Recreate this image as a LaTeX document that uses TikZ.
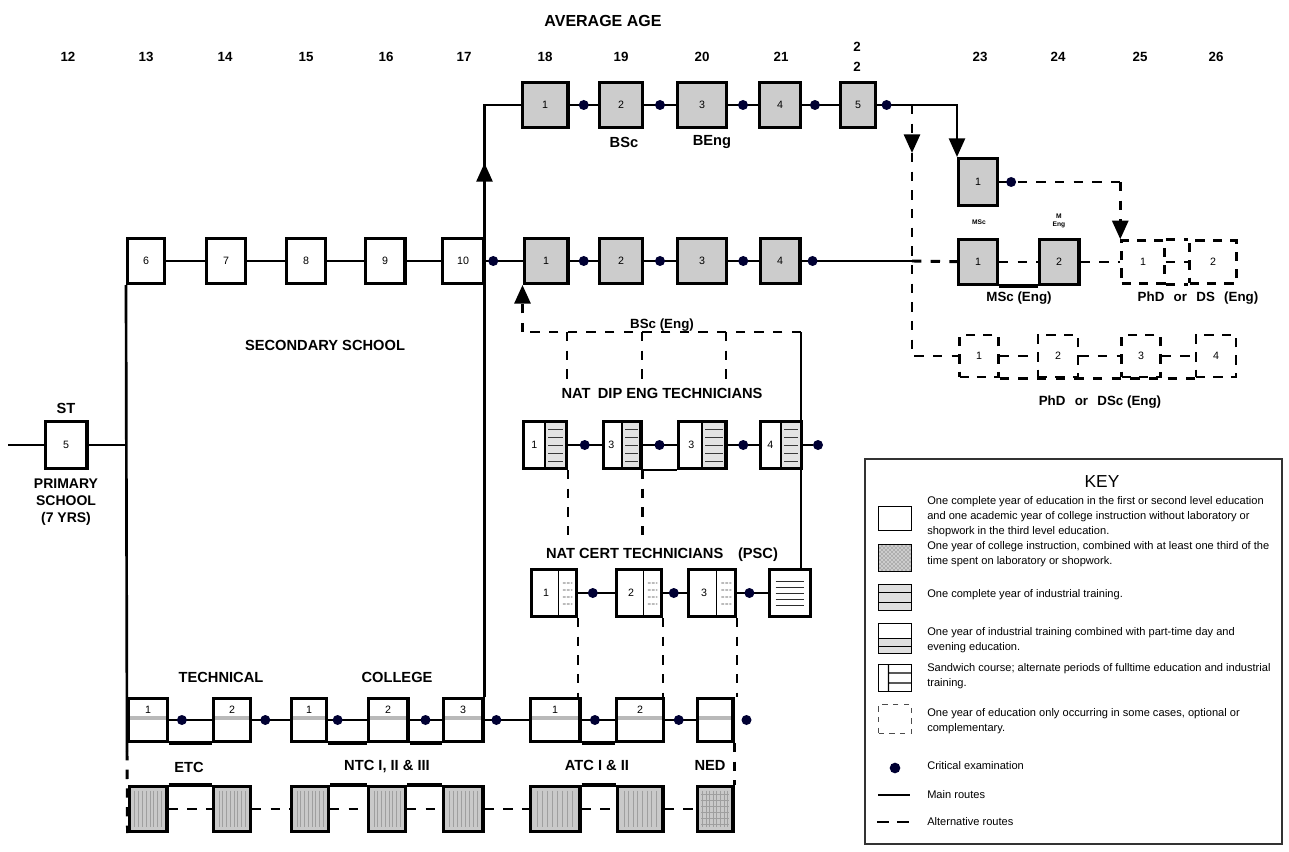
\documentclass[tikz,border=0pt]{standalone}
\usepackage{fontspec}
\setmainfont{Liberation Sans}
\usepackage{graphicx}
\usetikzlibrary{calc,arrows.meta,patterns}

% font sizes
\newcommand\numf{\fontsize{8}{9}\selectfont}
\newcommand\labf{\bfseries\fontsize{11}{13}\selectfont}
\newcommand\slabf{\bfseries\fontsize{10}{12}\selectfont}
\newcommand\agef{\bfseries\fontsize{10}{12}\selectfont}
\newcommand\keyf{\fontsize{8.3}{11.25}\selectfont}
\newcommand\tinyf{\bfseries\fontsize{5}{6}\selectfont}

\tikzset{
  sz/.style 2 args={minimum width={#1*0.75pt-2.4pt}, minimum height={#2*0.75pt-2.4pt}},
  box/.style={draw, line width=2.4pt, fill=white, inner sep=0pt, font=\numf},
  gbox/.style={box, fill=gray!40},
  dbox/.style={draw, line width=2pt, dash pattern=on 7pt off 6pt, inner sep=0pt, font=\numf},
  conn/.style={line width=2pt},
  thinconn/.style={line width=0.8pt},
  frame/.style={line width=2.4pt},
  alt/.style={line width=2.2pt, dash pattern=on 7pt off 7pt},
  dot/.style={circle, fill=black!80!blue, inner sep=0pt, minimum size=7.5pt},
  lab/.style={font=\labf, inner sep=1pt},
  slab/.style={font=\slabf, inner sep=1pt},
  age/.style={font=\agef, inner sep=1pt},
  tip/.style={-{Triangle[length=14pt,width=12pt]}},
  % sandwich year: number left, training lines right
  ndbox/.style={box, path picture={
      \fill[gray!22] (path picture bounding box.north) rectangle (path picture bounding box.south east);
      \draw[line width=1pt] (path picture bounding box.north) -- (path picture bounding box.south);
      \foreach \dy in {-16,-8,0,8,16}
        \draw[gray!45!black, line width=0.6pt] ($(path picture bounding box.center)+(3,\dy)$) -- ($(path picture bounding box.east)+(-3,\dy)$);},
      label={[font=\numf, xshift=-8pt]center:#1}},
  % year with part-time training: divider at 60 %
  ncbox/.style={box, path picture={
      \draw[line width=1pt] ($(path picture bounding box.north)!0.2!(path picture bounding box.north east)$) -- ($(path picture bounding box.south)!0.2!(path picture bounding box.south east)$);
      \foreach \dy in {-10,-3,4,11}
        \draw[gray!50!black, line width=0.5pt, dash pattern=on 2pt off 1pt] ($(path picture bounding box.center)!0.4!(path picture bounding box.east)+(0,\dy)$) -- ($(path picture bounding box.east)+(-4,\dy)$);},
      label={[font=\numf, xshift=-6pt]center:#1}},
  pscbox/.style={box, path picture={
      \foreach \dy in {-12,-6,0,6,12}
        \draw[gray!35!black, line width=0.6pt] ($(path picture bounding box.west)+(6,\dy)$) -- ($(path picture bounding box.east)+(-6,\dy)$);}},
  tcbox/.style={box, path picture={
      \draw[gray!55, line width=2.5pt] ($(path picture bounding box.west)+(0,-2)$) -- ($(path picture bounding box.east)+(0,-2)$);},
      label={[font=\numf, yshift=7.5pt]center:#1}},
  labbox/.style={box, fill=gray!42, path picture={
      \foreach \f in {0.15,0.25,...,0.86}
        \draw[gray!75, line width=0.5pt] ($(path picture bounding box.north west)!\f!(path picture bounding box.north east)+(0,4)$) -- ($(path picture bounding box.south west)!\f!(path picture bounding box.south east)+(0,-4)$);}},
  gridbox/.style={labbox, postaction={path picture={
      \foreach \dy in {-15,-9,-3,3,9,15}
        \draw[gray!75, line width=0.5pt] ($(path picture bounding box.west)+(4,\dy)$) -- ($(path picture bounding box.east)+(-4,\dy)$);}}},
  kb/.style={draw, line width=1.2pt, inner sep=0pt, fill=white},
  keytext/.style={font=\keyf, align=left, anchor=west, inner sep=0pt},
}

\begin{document}
\begin{tikzpicture}[x=0.75pt, y=-0.75pt]
\useasboundingbox (0,0) rectangle (1289,852);
\fill[white] (0,0) rectangle (1289,852);

% ---------- ages ----------
\node[lab, font=\bfseries\fontsize{12}{14}\selectfont] (avg) at (603,21) {AVERAGE AGE};
\foreach \a/\x in {12/68,13/146,14/225,15/306,16/386,17/464,18/545,19/621,20/702,21/781,23/980,24/1058,25/1140,26/1216}
  \node[age] (age\a) at (\x,57) {\a};
\node[age, align=center] (age22) at (857,57) {2\\[3pt]2};

% ---------- primary ----------
\node[box, sz={45}{50}] (ST) at (66,445) {5};
\node[lab] (stl) at (66,408) {ST};
\node[lab, align=center, font=\bfseries\fontsize{10.5}{12.75}\selectfont] (prim) at (66,502) {PRIMARY\\SCHOOL\\(7 YRS)};
\coordinate (pin) at (8,445);

% ---------- secondary ----------
\node[box, sz={40}{48}] (S6) at (146,261) {6};
\node[box, sz={42}{48}] (S7) at (226,261) {7};
\node[box, sz={42}{48}] (S8) at (306,261) {8};
\node[box, sz={43}{48}] (S9) at (385,261) {9};
\node[box, sz={44}{48}] (S10) at (463,261) {10};
\node[lab] (sec) at (325,345) {SECONDARY SCHOOL};

% ---------- first degree ----------
\node[gbox, sz={49}{48}] (U1) at (545,105) {1};
\node[gbox, sz={46}{48}] (U2) at (621,105) {2};
\node[gbox, sz={52}{48}] (U3) at (702,105) {3};
\node[gbox, sz={44}{48}] (U4) at (780,105) {4};
\node[gbox, sz={38}{48}] (U5) at (858,105) {5};
\node[lab] (bsc) at (624,142) {BSc};
\node[lab] (beng) at (712,142) {BEng};

\node[gbox, sz={47}{48}] (L1) at (546,261) {1};
\node[gbox, sz={46}{48}] (L2) at (621,261) {2};
\node[gbox, sz={52}{48}] (L3) at (702,261) {3};
\node[gbox, sz={43}{48}] (L4) at (780,261) {4};
\node[slab] (bsceng) at (662,325) {BSc (Eng)};

% ---------- postgraduate ----------
\node[gbox, sz={42}{50}] (M0) at (978,182) {1};
\node[gbox, sz={42}{48}] (MS1) at (978,262) {1};
\node[gbox, sz={43}{48}] (MS2) at (1059,262) {2};
\node[font=\tinyf] (mscs) at (979,222) {MSc};
\node[font=\tinyf, align=center, inner sep=0pt] (mengs) at (1059,221) {M\\Eng};
\node[slab] (mscl) at (1019,298) {MSc (Eng)};

\node[dbox, sz={46}{46}] (D1) at (1143,262) {1};
\node[dbox, sz={50}{46}] (D2) at (1213,262) {2};
\node[slab] (phd1) at (1198,298) {PhD\hspace{0.7em}or\hspace{0.7em}DS\hspace{0.7em}(Eng)};

\node[dbox, sz={42}{45}] (Q1) at (979,356) {1};
\node[dbox, sz={43}{45}] (Q2) at (1058,356) {2};
\node[dbox, sz={42}{45}] (Q3) at (1141,356) {3};
\node[dbox, sz={43}{45}] (Q4) at (1216,356) {4};
\node[slab] (phd2) at (1100,402) {PhD\hspace{0.7em}or\hspace{0.7em}DSc (Eng)};

% ---------- technicians ----------
\node[lab] (ndl) at (662,393) {NAT\hspace{0.5em}DIP ENG TECHNICIANS};
\node[ndbox=1, sz={46}{50}] (ND1) at (545,445) {};
\node[ndbox=3, sz={41}{50}] (ND2) at (622,445) {};
\node[ndbox=3, sz={51}{50}] (ND3) at (702,445) {};
\node[ndbox=4, sz={44}{50}] (ND4) at (781,445) {};

\node[lab] (ncl) at (662,555) {NAT CERT TECHNICIANS\hspace{1em}(PSC)};
\node[ncbox=1, sz={48}{50}] (NC1) at (554,593) {};
\node[ncbox=2, sz={48}{50}] (NC2) at (639,593) {};
\node[ncbox=3, sz={50}{50}] (NC3) at (712,593) {};
\node[pscbox, sz={44}{50}] (PSC) at (790,593) {};

% ---------- technical college ----------
\node[lab] (tech) at (221,677) {TECHNICAL};
\node[lab] (coll) at (397,677) {COLLEGE};
\node[tcbox=1, sz={42}{46}] (T1) at (148,720) {};
\node[tcbox=2, sz={40}{46}] (T2) at (232,720) {};
\node[tcbox=1, sz={38}{46}] (C1) at (309,720) {};
\node[tcbox=2, sz={43}{46}] (C2) at (388,720) {};
\node[tcbox=3, sz={43}{46}] (C3) at (463,720) {};
\node[tcbox=1, sz={53}{46}] (A1) at (555,720) {};
\node[tcbox=2, sz={50}{46}] (A2) at (640,720) {};
\node[tcbox={}, sz={39}{46}] (NE) at (715,720) {};

\node[lab] (etc) at (189,767) {ETC};
\node[lab] (ntc) at (387,767) {NTC I, II \& III};
\node[lab] (atc) at (597,765) {ATC I \& II};
\node[lab] (nedl) at (710,765) {NED};
\node[labbox, sz={41}{48}] (E1) at (148,809) {};
\node[labbox, sz={40}{48}] (E2) at (232,809) {};
\node[labbox, sz={40}{48}] (N1) at (310,809) {};
\node[labbox, sz={40}{48}] (N2) at (387,809) {};
\node[labbox, sz={43}{48}] (N3) at (463,809) {};
\node[labbox, sz={53}{48}] (AA1) at (555,809) {};
\node[labbox, sz={49}{48}] (AA2) at (640,809) {};
\node[gridbox, sz={39}{48}] (NB) at (715,809) {};

% ---------- route points ----------
\coordinate (k0) at (C3.north east |- U1.west);
\coordinate (ka) at (C3.north east |- 0,163);
\coordinate (kb) at (C3.north east |- 0,188);
\coordinate (k1) at (M0.north west |- U5.east);
\coordinate (k2) at (912,105);
\coordinate (k2a) at (912,153);
\coordinate (k3) at (k2 |- Q1.west);
\coordinate (k4) at (k2 |- L4.east);
\coordinate (k7) at (D1.north west |- M0.east);
\coordinate (v1) at (801,332);
\coordinate (k5) at (L1.south west |- v1);
\coordinate (d1t) at (567,332);
\coordinate (d1b) at (567,381);
\coordinate (d2t) at (642,332);
\coordinate (d2b) at (642,381);
\coordinate (d3t) at (726,332);
\coordinate (d3b) at (726,381);
\coordinate (tl) at ($(T1.south west)+(0,8)$);

% ---------- main routes ----------
\draw[conn] (pin) -- (ST);
\draw[conn] (ST) -- (ST -| S6.south west);
\draw[conn] (S6.south west) -- (tl);
\draw[conn] (S6) -- (S7);
\draw[conn] (S7) -- (S8);
\draw[conn] (S8) -- (S9);
\draw[conn] (S9) -- (S10);

\draw[conn] (C3.north east) -- (k0) -- (U1);
\draw[conn, tip] (kb) -- (ka);
\draw[conn] (U1) -- node[dot]{} (U2);
\draw[conn] (U2) -- node[dot]{} (U3);
\draw[conn] (U3) -- node[dot]{} (U4);
\draw[conn] (U4) -- node[dot, pos=0.35]{} (U5);
\draw[conn, tip] (U5) -- node[dot, pos=0.12]{} (k1) -- (M0.north west);

\draw[conn] (S10) -- node[dot, pos=0.22]{} (L1);
\draw[conn] (L1) -- node[dot]{} (L2);
\draw[conn] (L2) -- node[dot]{} (L3);
\draw[conn] (L3) -- node[dot]{} (L4);
\draw[conn] (L4) -- node[dot, pos=0.1]{} (k4);
\draw[frame] (MS1.south east) -- (MS2.south west);

\draw[conn] (ND1) -- node[dot]{} (ND2);
\draw[thinconn] (ND2) -- node[dot]{} (ND3);
\draw[thinconn] (ND2.south east) -- (ND3.south west);
\draw[conn] (ND3) -- node[dot]{} (ND4);
\node[dot] (nd4d) at ($(ND4.east)+(15,0)$) {};
\draw[conn] (ND4) -- (nd4d);

\draw[conn] (NC1) -- node[dot, pos=0.4]{} (NC2);
\draw[conn] (NC2) -- node[dot, pos=0.45]{} (NC3);
\draw[conn] (NC3) -- node[dot, pos=0.4]{} (PSC);
\draw[conn] (PSC.north -| v1) -- (v1);

\draw[conn] (T1) -- node[dot, pos=0.3]{} (T2);
\draw[conn] (T2) -- node[dot, pos=0.35]{} (C1);
\draw[conn] (C1) -- node[dot, pos=0.25]{} (C2);
\draw[conn] (C2) -- node[dot]{} (C3);
\draw[conn] (C3) -- node[dot, pos=0.27]{} (A1);
\draw[conn] (A1) -- node[dot, pos=0.4]{} (A2);
\draw[conn] (A2) -- node[dot, pos=0.45]{} (NE);
\node[dot] (ned) at ($(NE.east)+(12,0)$) {};
\draw[frame] (T1.south east) -- (T2.south west);
\draw[frame] (C1.south east) -- (C2.south west);
\draw[frame] (C2.south east) -- (C3.south west);
\draw[frame] (A1.south east) -- (A2.south west);

\draw[frame] (E1.north east) -- (E2.north west);
\draw[frame] (N1.north east) -- (N2.north west);
\draw[frame] (N2.north east) -- (N3.north west);
\draw[frame] (AA1.north east) -- (AA2.north west);

% ---------- alternative routes ----------
\draw[alt, tip] (k2) -- (k2a);
\draw[alt] (k2a) -- (k3) -- (Q1);
\draw[alt] (k4) -- (MS1);
\draw[alt] (MS1) -- (MS2);
\draw[alt] (MS2) -- (D1);
\draw[alt] (D1) -- (D2);
\draw[alt] (D1.south east) -- (D2.south west);
\draw[alt] (D1.north east) -- (D2.north west);
\draw[alt] (M0) -- node[dot, pos=0.1]{} (k7);
\draw[alt, tip] (k7) -- (D1.north west);
\draw[alt] (Q1) -- (Q2);
\draw[alt] (Q2) -- (Q3);
\draw[alt] (Q3) -- (Q4);
\draw[alt] (Q1.south east) -- (Q4.south west);

\draw[alt] (v1) -- (k5);
\draw[alt, tip] (k5) -- (L1.south west);
\draw[alt] (d1t) -- (d1b);
\draw[alt] (d2t) -- (d2b);
\draw[alt] (d3t) -- (d3b);
\draw[alt] (ND1.south east) -- (ND1.south east |- 0,538);
\draw[alt] (ND2.south east) -- (ND2.south east |- 0,538);
\draw[alt] (NC1.south east) -- (NC1.south east |- A1.north);
\draw[alt] (NC2.south east) -- (NC2.south east |- A2.north);
\draw[alt] (NC3.south east) -- (NC3.south east |- NE.north);
\draw[alt] (NE.south east) -- (NB.north east);
\draw[alt] (tl) -- (E1.south west);

\draw[alt] (E1) -- (E2);
\draw[alt] (E2) -- (N1);
\draw[alt] (N1) -- (N2);
\draw[alt] (N2) -- (N3);
\draw[alt] (N3) -- (AA1);
\draw[alt] (AA1) -- (AA2);
\draw[alt] (AA2) -- (NB);

% ---------- key ----------
\node[draw=black!80, line width=1.5pt, minimum width=313pt, minimum height=289pt] (keyframe) at (1073.5,651.5) {};
\node[font=\fontsize{13}{15}\selectfont] (keyt) at (1102,482) {KEY};

\node[kb, sz={36}{27}] (K1) at (895,518.5) {};
\node[kb, sz={36}{30}, preaction={fill=gray!40}, pattern=crosshatch dots, pattern color=gray!60!black] (K2) at (895,558) {};
\node[kb, sz={36}{29}, path picture={
    \fill[gray!25] (path picture bounding box.north west) rectangle (path picture bounding box.south east);
    \draw[line width=1pt] ($(path picture bounding box.west)+(0,-5)$) -- ($(path picture bounding box.east)+(0,-5)$)
       ($(path picture bounding box.west)+(0,5)$) -- ($(path picture bounding box.east)+(0,5)$);}] (K3) at (895,597.5) {};
\node[kb, sz={36}{33}, path picture={
    \fill[gray!25] (path picture bounding box.west) rectangle (path picture bounding box.south east);
    \draw[line width=1pt] (path picture bounding box.west) -- (path picture bounding box.east)
       ($(path picture bounding box.west)+(0,8)$) -- ($(path picture bounding box.east)+(0,8)$);}] (K4) at (895,638.5) {};
\node[kb, sz={36}{30}, path picture={
    \draw[line width=1pt] ($(path picture bounding box.north west)!0.3!(path picture bounding box.north east)$) -- ($(path picture bounding box.south west)!0.3!(path picture bounding box.south east)$)
       ($(path picture bounding box.west)!0.3!(path picture bounding box.east)+(0,-5)$) -- ($(path picture bounding box.east)+(0,-5)$)
       ($(path picture bounding box.west)!0.3!(path picture bounding box.east)+(0,5)$) -- ($(path picture bounding box.east)+(0,5)$);}] (K5) at (895,678) {};
\node[kb, sz={36}{32}, draw=black!70, line width=0.9pt, dash pattern=on 4pt off 4pt] (K6) at (895,719) {};
\node[dot, minimum size=8pt] (K7) at (895,768) {};
\coordinate (k8a) at (878,795);
\coordinate (k8b) at (910,795);
\draw[line width=1pt] (k8a) -- (k8b);
\coordinate (k9a) at (877,822);
\coordinate (k9b) at (911,822);
\draw[line width=1.4pt, dash pattern=on 9pt off 6pt] (k9a) -- (k9b);

\node[keytext] (kt1) at (927,517) {One complete year of education in the first or second level education\\and one academic year of college instruction without laboratory or\\shopwork in the third level education.};
\node[keytext] (kt2) at (927,554.5) {One year of college instruction, combined with at least one third of the\\time spent on laboratory or shopwork.};
\node[keytext] (kt3) at (927,595) {One complete year of industrial training.};
\node[keytext] (kt4) at (927,640) {One year of industrial training combined with part-time day and\\evening education.};
\node[keytext] (kt5) at (927,676.5) {Sandwich course; alternate periods of fulltime education and industrial\\training.};
\node[keytext] (kt6) at (927,721.5) {One year of education only occurring in some cases, optional or\\complementary.};
\node[keytext] (kt7) at (927,766) {Critical examination};
\node[keytext] (kt8) at (927,795) {Main routes};
\node[keytext] (kt9) at (927,822) {Alternative routes};
\end{tikzpicture}
\end{document}
